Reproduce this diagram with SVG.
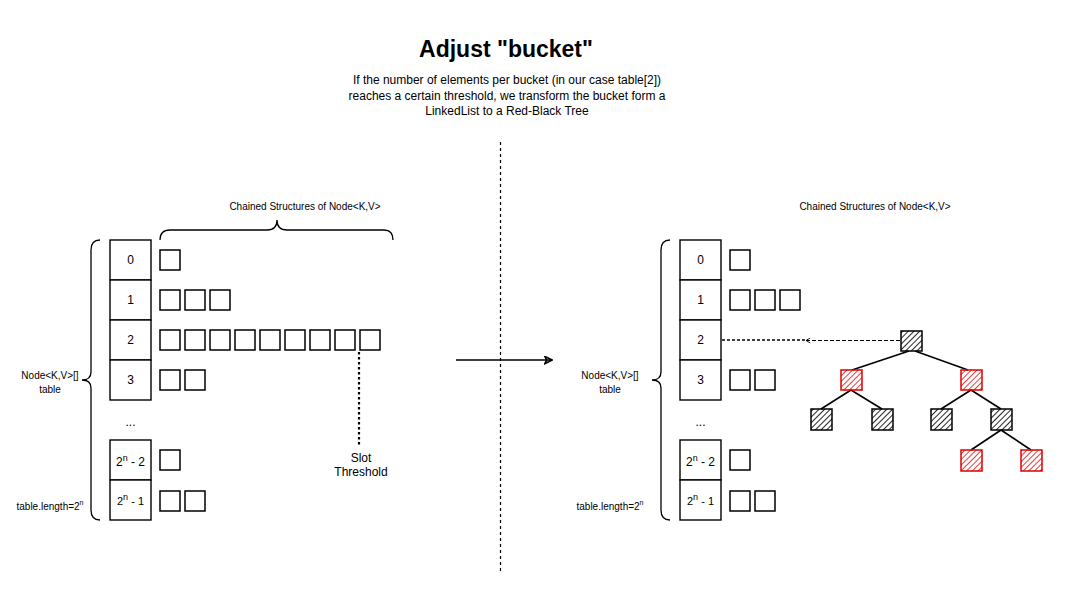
<svg xmlns="http://www.w3.org/2000/svg" width="1081" height="601" viewBox="0 0 1081 601">
<style>
text{font-family:"Liberation Sans",Arial,Helvetica,sans-serif;fill:#000}
.t{font-size:12px;text-anchor:middle}
.s{font-size:10px;text-anchor:middle}
.cell{fill:#fff;stroke:#000;stroke-width:1.4}
.nd{fill:#fff;stroke:#000;stroke-width:1.5}
.br{fill:none;stroke:#000;stroke-width:1.3}
.edge{stroke:#000;stroke-width:1.6;fill:none}
.hb{fill:url(#hatchB);stroke:#000;stroke-width:1.5}
.hr{fill:url(#hatchR);stroke:#dd0000;stroke-width:1.5}
</style>
<defs>
<pattern id="hatchB" patternUnits="userSpaceOnUse" width="4" height="4" patternTransform="rotate(45)">
<line x1="0" y1="0" x2="0" y2="4" stroke="#000" stroke-width="1.7"/>
</pattern>
<pattern id="hatchR" patternUnits="userSpaceOnUse" width="4" height="4" patternTransform="rotate(45)">
<line x1="0" y1="0" x2="0" y2="4" stroke="#dd0000" stroke-width="1.5"/>
</pattern>
<marker id="arr" viewBox="0 0 10 10" refX="9" refY="5" markerWidth="9" markerHeight="9" orient="auto" markerUnits="userSpaceOnUse">
<path d="M1,1 L9,5 L1,9 L3,5 Z" fill="none" stroke="#000" stroke-width="1.8"/>
</marker>
<marker id="arrS" viewBox="0 0 10 10" refX="9" refY="5" markerWidth="6" markerHeight="6" orient="auto" markerUnits="userSpaceOnUse">
<path d="M2,1 L9,5 L2,9" fill="none" stroke="#000" stroke-width="1.5"/>
</marker>
</defs>
<rect width="1081" height="601" fill="#fff"/>

<g id="title">
<text x="506" y="57" style="font-size:23px;font-weight:bold;text-anchor:middle">Adjust "bucket"</text>
<text class="t" x="507" y="84">If the number of elements per bucket (in our case table[2])</text>
<text class="t" x="507" y="99.5">reaches a certain threshold, we transform the bucket form a</text>
<text class="t" x="507" y="115">LinkedList to a Red-Black Tree</text>
</g>

<g id="divider">
<line x1="500.5" y1="142" x2="500.5" y2="571" stroke="#000" stroke-width="1.2" stroke-dasharray="3 3"/>
</g>

<!-- LEFT SIDE -->
<g id="left-table">
<rect class="cell" x="110" y="240" width="41" height="40"/>
<rect class="cell" x="110" y="280" width="41" height="40"/>
<rect class="cell" x="110" y="320" width="41" height="40"/>
<rect class="cell" x="110" y="360" width="41" height="40"/>
<rect class="cell" x="110" y="440" width="41" height="40"/>
<rect class="cell" x="110" y="480" width="41" height="40"/>
<text class="t" x="130.5" y="264">0</text>
<text class="t" x="130.5" y="304">1</text>
<text class="t" x="130.5" y="344">2</text>
<text class="t" x="130.5" y="384">3</text>
<text class="t" x="130.5" y="426">...</text>
<text class="t" x="130.5" y="466">2<tspan font-size="9" dy="-5">n</tspan><tspan dy="5"> - 2</tspan></text>
<text class="t" x="130.5" y="505" style="font-size:11px">2<tspan font-size="9" dy="-5">n</tspan><tspan dy="5"> - 1</tspan></text>
</g>
<g id="left-labels">
<path class="br" d="M100,240 Q91,240 91,250 L91,372 Q91,380 82,380 Q91,380 91,388 L91,510 Q91,520 100,520"/>
<text class="s" x="50" y="379">Node&lt;K,V&gt;[]</text>
<text class="s" x="50" y="393">table</text>
<text class="s" x="50" y="510">table.length=2<tspan font-size="7" dy="-5">n</tspan></text>
<path class="br" d="M160,240 Q160,230 170,230 L267,230 Q277,230 277,220 Q277,230 287,230 L384,230 Q393,230 393,240"/>
<text class="s" x="305" y="210">Chained Structures of Node&lt;K,V&gt;</text>
</g>
<g id="left-chains">
<rect class="nd" x="160" y="250" width="20" height="20"/>
<rect class="nd" x="160" y="290" width="20" height="20"/>
<rect class="nd" x="185" y="290" width="20" height="20"/>
<rect class="nd" x="210" y="290" width="20" height="20"/>
<rect class="nd" x="160" y="330" width="20" height="20"/>
<rect class="nd" x="185" y="330" width="20" height="20"/>
<rect class="nd" x="210" y="330" width="20" height="20"/>
<rect class="nd" x="235" y="330" width="20" height="20"/>
<rect class="nd" x="260" y="330" width="20" height="20"/>
<rect class="nd" x="285" y="330" width="20" height="20"/>
<rect class="nd" x="310" y="330" width="20" height="20"/>
<rect class="nd" x="335" y="330" width="20" height="20"/>
<rect class="nd" x="360" y="330" width="20" height="20"/>
<rect class="nd" x="160" y="370" width="20" height="20"/>
<rect class="nd" x="185" y="370" width="20" height="20"/>
<rect class="nd" x="160" y="450" width="20" height="20"/>
<rect class="nd" x="160" y="491" width="20" height="20"/>
<rect class="nd" x="185" y="491" width="20" height="20"/>
</g>
<g id="slot-threshold">
<line x1="359" y1="352" x2="359" y2="447" stroke="#000" stroke-width="2.2" stroke-dasharray="2.5 2.5"/>
<text class="t" x="361" y="462">Slot</text>
<text class="t" x="361" y="476">Threshold</text>
</g>

<g id="connectors">
<line x1="456" y1="360" x2="552" y2="360" stroke="#000" stroke-width="1.5" marker-end="url(#arr)"/>
<line x1="722" y1="340" x2="808" y2="340" stroke="#000" stroke-width="1.4" stroke-dasharray="3 2"/>
<line x1="900" y1="340.5" x2="806" y2="340.5" stroke="#000" stroke-width="1.1" stroke-dasharray="4 2" marker-end="url(#arrS)"/>
<line class="edge" x1="909" y1="351" x2="852" y2="370"/>
<line class="edge" x1="915" y1="351" x2="968" y2="370"/>
<line class="edge" x1="851" y1="390" x2="821" y2="409"/>
<line class="edge" x1="851" y1="390" x2="882" y2="409"/>
<line class="edge" x1="971" y1="390" x2="941" y2="409"/>
<line class="edge" x1="971" y1="390" x2="1001" y2="409"/>
<line class="edge" x1="1001" y1="430" x2="971" y2="450"/>
<line class="edge" x1="1001" y1="430" x2="1031" y2="450"/>
</g>

<!-- RIGHT SIDE -->
<g id="right-table">
<rect class="cell" x="680" y="240" width="41" height="40"/>
<rect class="cell" x="680" y="280" width="41" height="40"/>
<rect class="cell" x="680" y="320" width="41" height="40"/>
<rect class="cell" x="680" y="360" width="41" height="40"/>
<rect class="cell" x="680" y="440" width="41" height="40"/>
<rect class="cell" x="680" y="480" width="41" height="40"/>
<text class="t" x="700.5" y="264">0</text>
<text class="t" x="700.5" y="304">1</text>
<text class="t" x="700.5" y="344">2</text>
<text class="t" x="700.5" y="384">3</text>
<text class="t" x="700.5" y="426">...</text>
<text class="t" x="700.5" y="466">2<tspan font-size="9" dy="-5">n</tspan><tspan dy="5"> - 2</tspan></text>
<text class="t" x="700.5" y="505" style="font-size:11px">2<tspan font-size="9" dy="-5">n</tspan><tspan dy="5"> - 1</tspan></text>
</g>
<g id="right-labels">
<path class="br" d="M670,240 Q661,240 661,250 L661,372 Q661,380 652,380 Q661,380 661,388 L661,510 Q661,520 670,520"/>
<text class="s" x="610" y="379">Node&lt;K,V&gt;[]</text>
<text class="s" x="610" y="393">table</text>
<text class="s" x="610" y="510">table.length=2<tspan font-size="7" dy="-5">n</tspan></text>
<text class="s" x="875" y="210">Chained Structures of Node&lt;K,V&gt;</text>
</g>
<g id="right-chains">
<rect class="nd" x="730" y="250" width="20" height="20"/>
<rect class="nd" x="730" y="290" width="20" height="20"/>
<rect class="nd" x="755" y="290" width="20" height="20"/>
<rect class="nd" x="780" y="290" width="20" height="20"/>
<rect class="nd" x="730" y="370" width="20" height="20"/>
<rect class="nd" x="755" y="370" width="20" height="20"/>
<rect class="nd" x="730" y="450" width="20" height="20"/>
<rect class="nd" x="730" y="491" width="20" height="20"/>
<rect class="nd" x="755" y="491" width="20" height="20"/>
</g>
<g id="tree-root"><rect class="hb" x="901" y="331" width="21" height="20"/></g>
<g id="tree-l1a"><rect class="hr" x="841" y="370" width="21" height="20"/></g>
<g id="tree-l1b"><rect class="hr" x="961" y="370" width="21" height="20"/></g>
<g id="tree-l2a"><rect class="hb" x="811" y="409" width="21" height="21"/></g>
<g id="tree-l2b"><rect class="hb" x="872" y="409" width="21" height="21"/></g>
<g id="tree-l2c"><rect class="hb" x="931" y="409" width="21" height="21"/></g>
<g id="tree-l2d"><rect class="hb" x="991" y="409" width="21" height="21"/></g>
<g id="tree-l3a"><rect class="hr" x="961" y="450" width="21" height="21"/></g>
<g id="tree-l3b"><rect class="hr" x="1021" y="450" width="21" height="21"/></g>
</svg>
